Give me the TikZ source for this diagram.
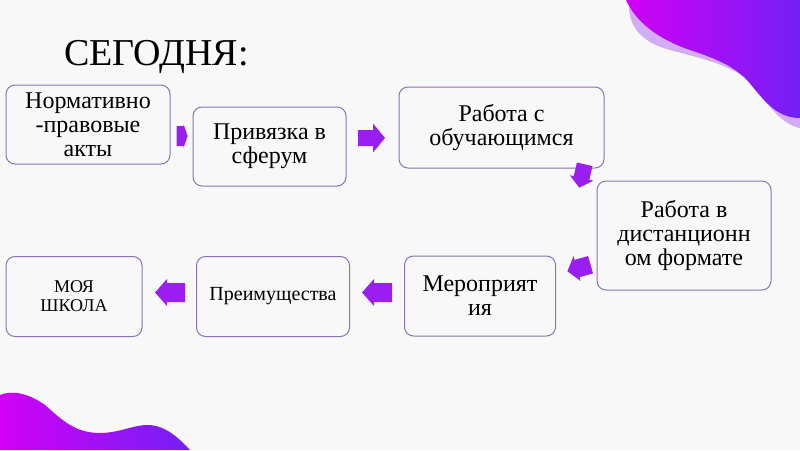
\documentclass[tikz,border=0pt]{standalone}
\usepackage{fontspec}
\setmainfont{LiberationSerif}[Extension=.ttf, UprightFont=*-Regular, BoldFont=*-Bold, ItalicFont=*-Italic, BoldItalicFont=*-BoldItalic]
\usetikzlibrary{calc}
\definecolor{bg}{RGB}{248,248,248}
\definecolor{boxline}{RGB}{140,115,175}
\definecolor{arr}{RGB}{155,30,240}
\definecolor{magA}{RGB}{208,0,245}
\definecolor{vioA}{RGB}{115,32,245}
\definecolor{lav}{RGB}{196,140,245}
\newcommand{\blockarr}[6]{%
  \begin{scope}[shift={(#1)}, rotate=#2]
    \fill[arr] (-#3/2,-#4) -- (#3/2-#6,-#4) -- (#3/2-#6,-#5) -- (#3/2,0) -- (#3/2-#6,#5) -- (#3/2-#6,#4) -- (-#3/2,#4) -- cycle;
  \end{scope}}
\tikzset{
  stepbox/.style={draw=boxline, line width=1pt, fill=bg, rounded corners=9pt,
    align=center, inner sep=0pt, font=\fontsize{24}{24}\selectfont},
}
\begin{document}
\begin{tikzpicture}[x=1pt,y=-1pt]
\fill[bg] (0,0) rectangle (800,450);
\useasboundingbox (0,0) rectangle (800,450);
% top-right blob
\fill[lav, opacity=0.7] (629,0) .. controls (627,25) and (640,42) .. (670,50)
  .. controls (700,58) and (728,64) .. (748,80)
  .. controls (765,98) and (778,124) .. (800,128) -- (800,0) -- cycle;
\shade[left color=magA, right color=vioA] (626,0) .. controls (635,20) and (655,38) .. (690,50)
  .. controls (720,60) and (738,68) .. (752,86)
  .. controls (768,106) and (780,118) .. (800,118) -- (800,0) -- cycle;
% bottom-left blob
\shade[left color=magA, right color=vioA] (0,395) .. controls (12,390) and (28,393) .. (45,405)
  .. controls (62,420) and (75,433) .. (100,433)
  .. controls (120,433) and (135,424) .. (150,425)
  .. controls (165,426) and (178,437) .. (190,450) -- (0,450) -- cycle;
% title
\node[anchor=base west, inner sep=0pt, font=\fontsize{38}{38}\selectfont] (title) at (64,65) {СЕГОДНЯ:};
% boxes
\node[stepbox, minimum width=164pt, minimum height=79pt] (n1) at (88,124.5) {Нормативно\\-правовые\\акты};
\node[stepbox, minimum width=153pt, minimum height=79pt] (n2) at (269.5,146.5) {Привязка в\\сферум};
\node[stepbox, minimum width=205pt, minimum height=81pt] (n3) at (501.5,127.5) {Работа с\\обучающимся};
\node[stepbox, minimum width=174pt, minimum height=109pt] (n4) at (684,235.5) {Работа в\\дистанционн\\ом формате};
\node[stepbox, minimum width=151pt, minimum height=80pt] (n5) at (480,296) {Мероприят\\ия};
\node[stepbox, minimum width=153pt, minimum height=80pt, font=\fontsize{20}{22}\selectfont] (n6) at (273,296.5) {Преимущества};
\node[stepbox, minimum width=136pt, minimum height=80pt, font=\fontsize{18}{19}\selectfont] (n7) at (74,296.5) {МОЯ\\ШКОЛА};
% arrows
\coordinate (a12) at (182,136);
\coordinate (a23) at (371.5,138);
\coordinate (a34) at (582,176);
\coordinate (a45) at (579,268);
\coordinate (a56) at (377,292.5);
\coordinate (a67) at (170,292.5);
\blockarr{a12}{0}{11}{10}{12}{4}
\blockarr{a23}{0}{27}{8}{14.5}{12}
\blockarr{a34}{257}{24}{8}{12}{10}
\blockarr{a45}{196}{24}{9}{13}{10}
\blockarr{a56}{180}{30}{9.5}{13.5}{12}
\blockarr{a67}{180}{30}{9.5}{13.5}{12}
\end{tikzpicture}
\end{document}
